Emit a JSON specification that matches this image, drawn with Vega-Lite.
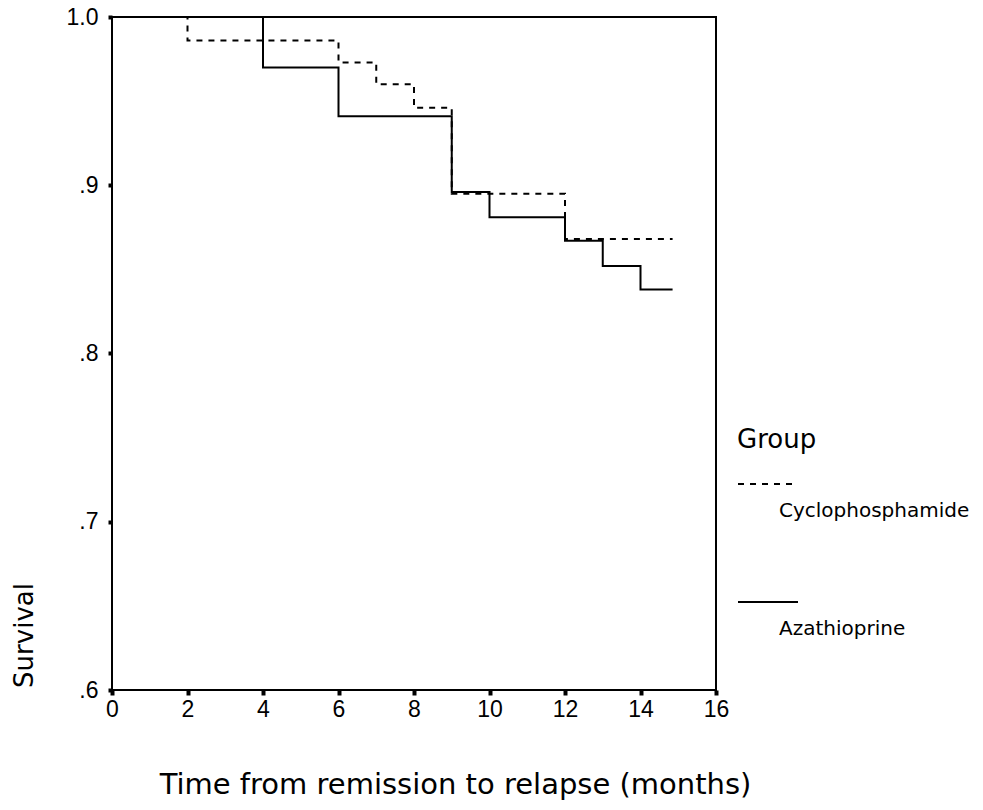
{
  "$schema": "https://vega.github.io/schema/vega-lite/v6.json",
  "autosize": "none",
  "width": 604,
  "height": 673,
  "padding": {"left": 112, "top": 17, "right": 267, "bottom": 120},
  "background": "white",
  "config": {
    "font": "Liberation Sans",
    "view": {"stroke": "black", "strokeWidth": 2}
  },
  "data": {
    "values": [
      {"time": 0, "survival": 1.0, "group": "Cyclophosphamide"},
      {"time": 2, "survival": 0.986, "group": "Cyclophosphamide"},
      {"time": 6, "survival": 0.973, "group": "Cyclophosphamide"},
      {"time": 7, "survival": 0.96, "group": "Cyclophosphamide"},
      {"time": 8, "survival": 0.946, "group": "Cyclophosphamide"},
      {"time": 9, "survival": 0.895, "group": "Cyclophosphamide"},
      {"time": 12, "survival": 0.868, "group": "Cyclophosphamide"},
      {"time": 14.85, "survival": 0.868, "group": "Cyclophosphamide"},
      {"time": 0, "survival": 1.0, "group": "Azathioprine"},
      {"time": 4, "survival": 0.97, "group": "Azathioprine"},
      {"time": 6, "survival": 0.941, "group": "Azathioprine"},
      {"time": 9, "survival": 0.896, "group": "Azathioprine"},
      {"time": 10, "survival": 0.881, "group": "Azathioprine"},
      {"time": 12, "survival": 0.867, "group": "Azathioprine"},
      {"time": 13, "survival": 0.852, "group": "Azathioprine"},
      {"time": 14, "survival": 0.838, "group": "Azathioprine"},
      {"time": 14.85, "survival": 0.838, "group": "Azathioprine"}
    ]
  },
  "mark": {"type": "line", "interpolate": "step-after", "color": "black", "strokeWidth": 2},
  "encoding": {
    "x": {
      "field": "time",
      "type": "quantitative",
      "scale": {"domain": [0, 16], "nice": false, "zero": false},
      "axis": {
        "title": "Time from remission to relapse (months)",
        "titleFont": "DejaVu Sans",
        "titleFontSize": 29,
        "titleFontWeight": "normal",
        "titleColor": "black",
        "titleX": 343,
        "titleY": 103,
        "titleBaseline": "alphabetic",
        "values": [0, 2, 4, 6, 8, 10, 12, 14, 16],
        "format": "d",
        "labelFontSize": 23,
        "labelColor": "black",
        "labelPadding": 3,
        "labelFlush": false,
        "tickColor": "black",
        "tickWidth": 4,
        "tickSize": 5,
        "domain": false,
        "grid": false
      }
    },
    "y": {
      "field": "survival",
      "type": "quantitative",
      "scale": {"domain": [0.6, 1.0], "nice": false, "zero": false},
      "axis": {
        "title": "Survival",
        "titleFont": "DejaVu Sans",
        "titleFontSize": 26,
        "titleFontWeight": "normal",
        "titleColor": "black",
        "titleX": -88,
        "titleY": 618,
        "titleAlign": "center",
        "titleBaseline": "middle",
        "values": [0.6, 0.7, 0.8, 0.9, 1.0],
        "labelExpr": "datum.value >= 0.999 ? '1.0' : replace(format(datum.value, '.1f'), '0.', '.')",
        "labelFontSize": 23,
        "labelColor": "black",
        "labelPadding": 10,
        "labelFlush": false,
        "tickColor": "black",
        "tickWidth": 4,
        "tickSize": 4,
        "domain": false,
        "grid": false
      }
    },
    "strokeDash": {
      "field": "group",
      "type": "nominal",
      "scale": {"domain": ["Cyclophosphamide", "Azathioprine"], "range": [[6, 6], [1, 0]]},
      "legend": {
        "title": "Group",
        "orient": "none",
        "legendX": 625,
        "legendY": 410,
        "titleFont": "DejaVu Sans",
        "titleFontSize": 26,
        "titleFontWeight": "normal",
        "titleColor": "black",
        "titlePadding": 0,
        "symbolType": "stroke",
        "symbolSize": 3600,
        "symbolStrokeWidth": 2,
        "symbolStrokeColor": "black",
        "labelFont": "DejaVu Sans",
        "labelFontSize": 20,
        "labelColor": "black",
        "labelOffset": -20,
        "rowPadding": 50,
        "labelLimit": 300,
        "encode": {
          "labels": {"update": {"dy": {"value": 27}}}
        }
      }
    }
  }
}
